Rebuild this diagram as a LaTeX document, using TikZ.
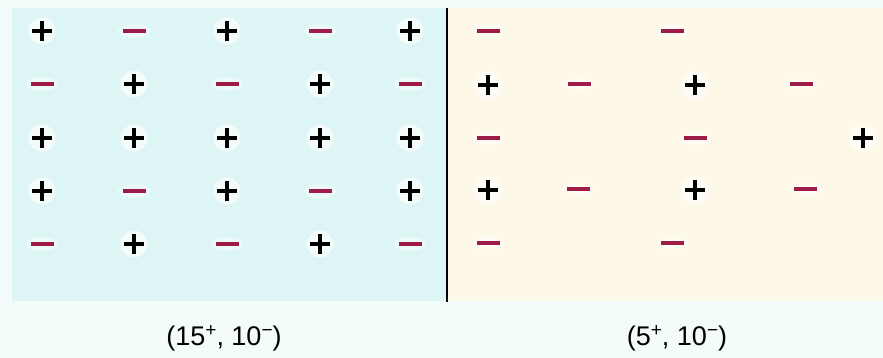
\documentclass[tikz,border=0pt]{standalone}
\usepackage{fontspec}
\setmainfont{Liberation Sans}
\usetikzlibrary{positioning,shapes.geometric}
\definecolor{pagebg}{RGB}{244,251,251}
\definecolor{coldbg}{RGB}{222,245,245}
\definecolor{warmbg}{RGB}{253,248,231}
\definecolor{anioncol}{RGB}{160,28,72}
\newcommand{\chg}[1]{\raisebox{0.62ex}{\fontsize{19}{19}\selectfont #1}}
\tikzset{
  cation/.style={circle, fill=white, fill opacity=0.65, minimum size=27pt, inner sep=0pt,
    path picture={
      \draw[line width=4.4pt, opacity=1, black] ([xshift=-10pt]path picture bounding box.center) -- ([xshift=10pt]path picture bounding box.center);
      \draw[line width=4.4pt, opacity=1, black] ([yshift=-10pt]path picture bounding box.center) -- ([yshift=10pt]path picture bounding box.center);}},
  anion/.style={ellipse, fill=white, fill opacity=0.4, minimum width=32pt, minimum height=14pt, inner sep=0pt,
    path picture={
      \draw[line width=4.4pt, opacity=1, anioncol] ([xshift=-11.5pt]path picture bounding box.center) -- ([xshift=11.5pt]path picture bounding box.center);}},
  tally/.style={font=\fontsize{27}{32}\selectfont, inner sep=0pt}
}
\begin{document}
\begin{tikzpicture}[x=1pt, y=-1pt]
  \useasboundingbox[fill=pagebg] (0,0) rectangle (883,358);
  % two crystal regions
  \fill[coldbg] (12,8) rectangle (447,301);
  \fill[warmbg] (447,8) rectangle (883,301);
  \draw[line width=1.6pt] (447,8) -- (447,302);

  % left side: 15 cations, 10 anions
  \foreach \x/\s [count=\c] in {42/cation,134/anion,227/cation,320/anion,410/cation}
    \node[\s] (la\c) at (\x,31) {};
  \foreach \x/\s [count=\c] in {42/anion,134/cation,227/anion,320/cation,410/anion}
    \node[\s] (lb\c) at (\x,84) {};
  \foreach \x/\s [count=\c] in {42/cation,134/cation,227/cation,320/cation,410/cation}
    \node[\s] (lc\c) at (\x,138) {};
  \foreach \x/\s [count=\c] in {42/cation,134/anion,227/cation,320/anion,410/cation}
    \node[\s] (ld\c) at (\x,191) {};
  \foreach \x/\s [count=\c] in {42/anion,134/cation,227/anion,320/cation,410/anion}
    \node[\s] (le\c) at (\x,244) {};

  % right side: 5 cations, 10 anions
  \node[anion] (ra1) at (488,31) {};
  \node[anion] (ra2) at (672,31) {};
  \node[cation] (rb1) at (488,85) {};
  \node[anion] (rb2) at (579,84) {};
  \node[cation] (rb3) at (695,85) {};
  \node[anion] (rb4) at (801,84) {};
  \node[anion] (rc1) at (488,138) {};
  \node[anion] (rc2) at (695,138) {};
  \node[cation] (rc3) at (863,138) {};
  \node[cation] (rd1) at (488,190) {};
  \node[anion] (rd2) at (578,189) {};
  \node[cation] (rd3) at (695,190) {};
  \node[anion] (rd4) at (805,189) {};
  \node[anion] (re1) at (488,243) {};
  \node[anion] (re2) at (672,243) {};

  \node[tally] (lcount) at (224,338) {(15\chg{+}, 10\chg{−})};
  \node[tally] (rcount) at (677,338) {(5\chg{+}, 10\chg{−})};
\end{tikzpicture}
\end{document}
